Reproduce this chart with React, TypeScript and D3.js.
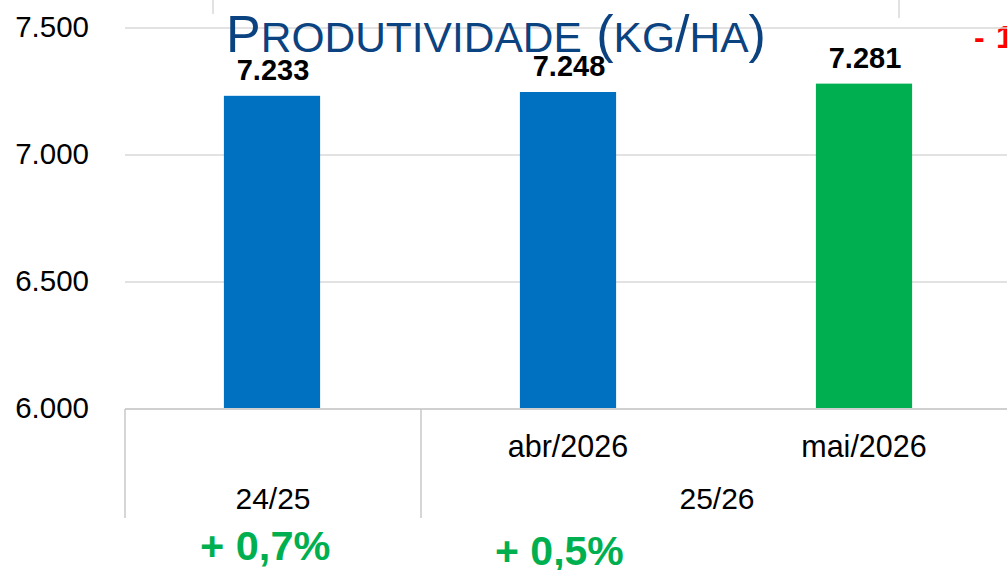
import React from "react";
import * as d3 from "d3";

const categories = ["24/25", "abr/2026", "mai/2026"];
const innerLabels = ["", "abr/2026", "mai/2026"];
const groups = ["24/25", "25/26"];
const groupSpans = [[0, 0], [1, 2]];
const values = [7233, 7248, 7281];
const barColors = ["#0070C0", "#0070C0", "#00B050"];
const valueLabels = ["7.233", "7.248", "7.281"];
const yTicks = [6000, 6500, 7000, 7500];
const yTickLabels = ["6.000", "6.500", "7.000", "7.500"];
const changeLabels = ["+ 0,7%", "+ 0,5%"];

const W = 1007;
const H = 570;
const FONT = "'Liberation Sans', Arial, sans-serif";

export default function App() {
  const y = d3.scaleLinear().domain([6000, 7500]).range([409, 28]);
  const x = d3
    .scaleBand<string>()
    .domain(categories)
    .range([124, 1012])
    .paddingInner(0.675)
    .paddingOuter(0.3375);
  const step = x.step();
  const cellLeft = (i: number) => 125 + i * step;

  return (
    <svg
      width={W}
      height={H}
      style={{ position: "fixed", left: 0, top: 0, background: "#fff" }}
      fontFamily={FONT}
    >
      <rect x={0} y={0} width={W} height={H} fill="#fff" />
      {/* remnants of table above */}
      <line x1={213} x2={213} y1={0} y2={14} stroke="#D9D9D9" strokeWidth={1.5} />
      <line x1={899} x2={899} y1={0} y2={18} stroke="#D9D9D9" strokeWidth={1.5} />
      <text fill="#FF0000" fontWeight="bold" fontSize={32} y={48}>
        <tspan x={974}>-</tspan>
        <tspan x={996}>1</tspan>
      </text>

      {/* gridlines */}
      {yTicks.slice(1).map((t) => (
        <line key={t} x1={125} x2={W} y1={y(t)} y2={y(t)} stroke="#D9D9D9" strokeWidth={1.5} />
      ))}
      {/* y tick labels */}
      {yTicks.map((t, i) => (
        <text key={t} x={89} y={y(t) + 9} textAnchor="end" fontSize={29.5} fill="#000">
          {yTickLabels[i]}
        </text>
      ))}

      {/* bars */}
      {categories.map((c, i) => (
        <rect
          key={c}
          x={x(c)}
          y={y(values[i])}
          width={x.bandwidth()}
          height={y(6000) - y(values[i])}
          fill={barColors[i]}
        />
      ))}
      {/* value labels */}
      {categories.map((c, i) => (
        <text
          key={c}
          x={(x(c) as number) + x.bandwidth() / 2 + 1}
          y={y(values[i]) - 16}
          textAnchor="middle"
          fontWeight="bold"
          fontSize={29}
          fill="#000"
        >
          {valueLabels[i]}
        </text>
      ))}

      {/* axis line */}
      <line x1={125} x2={W} y1={y(6000)} y2={y(6000)} stroke="#D0D0D0" strokeWidth={2} />
      {/* group separators */}
      {[0, 1].map((i) => (
        <line
          key={i}
          x1={cellLeft(groupSpans[i][0])}
          x2={cellLeft(groupSpans[i][0])}
          y1={y(6000)}
          y2={518}
          stroke="#C8C8C8"
          strokeWidth={1.5}
        />
      ))}
      {/* inner labels */}
      {categories.map((c, i) => (
        <text
          key={c}
          x={(x(c) as number) + x.bandwidth() / 2}
          y={457}
          textAnchor="middle"
          fontSize={30.5}
          fill="#000"
        >
          {innerLabels[i]}
        </text>
      ))}
      {/* group labels */}
      {groups.map((g, i) => {
        const l = cellLeft(groupSpans[i][0]);
        const r = cellLeft(groupSpans[i][1] + 1);
        return (
          <text key={g} x={(l + r) / 2} y={509} textAnchor="middle" fontSize={30} fill="#000">
            {g}
          </text>
        );
      })}

      {/* change labels */}
      <text x={200} y={560} fontWeight="bold" fontSize={41.5} fill="#00B050">
        {changeLabels[0]}
      </text>
      <text x={495} y={565} fontWeight="bold" fontSize={41} fill="#00B050">
        {changeLabels[1]}
      </text>

      {/* title */}
      <text x={226} y={52} fill="#0B4280">
        <tspan fontSize={52}>P</tspan>
        <tspan fontSize={42.5}>RODUTIVIDADE</tspan>
        <tspan fontSize={52}> (</tspan>
        <tspan fontSize={42.5}>KG</tspan>
        <tspan fontSize={52}>/</tspan>
        <tspan fontSize={42.5}>HA</tspan>
        <tspan fontSize={52}>)</tspan>
      </text>
    </svg>
  );
}
